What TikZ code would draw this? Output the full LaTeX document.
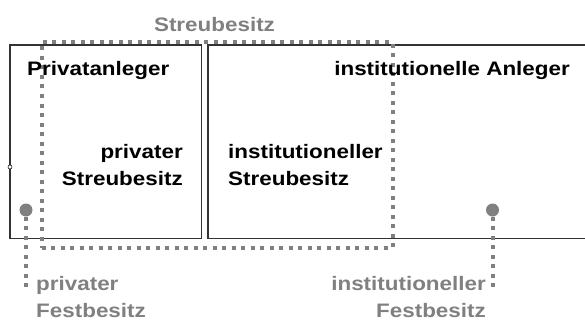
\documentclass[tikz,border=0pt]{standalone}
\usepackage{fontspec}
\setmainfont{Liberation Sans}[FakeStretch=1.15]
\usetikzlibrary{positioning}
\definecolor{boxline}{RGB}{51,51,51}
\definecolor{dotgray}{RGB}{128,128,128}

\begin{document}
\begin{tikzpicture}[x=1pt,y=-1pt,
    every node/.style={font=\fontsize{19.5}{27}\selectfont\bfseries,inner sep=0pt},
    anleger/.style={draw=boxline,line width=1.5pt},
    streu/.style={draw=dotgray,line width=4pt,dash pattern=on 4pt off 5.5pt},
    grau/.style={text=dotgray},
    punkt/.style={circle,fill=dotgray,minimum size=13pt}]

    % fix the page size
    \useasboundingbox (0,0) rectangle (585,321);

    % boxes of the two investor groups
    \node[anleger,minimum width=191.5pt,minimum height=193.5pt] (privat) at (105.75,141.75) {};
    \draw[anleger] (585,45) -- (208,45) -- (208,238.5) -- (585,238.5);
    \node[draw=black,fill=white,circle,minimum size=4pt,line width=0.5pt] (marke) at (10,167) {};

    % free float
    \node[streu,minimum width=351pt,minimum height=205.5pt] (streu) at (217,144.75) {};
    \node[grau,anchor=base] (streulabel) at (214.5,31.7) {Streubesitz};

    % labels
    \node[anchor=base west] (privlabel) at (27,75.7) {Privatanleger};
    \node[anchor=base east] (instlabel) at (570,75.7) {institutionelle Anleger};
    \node[anchor=base east,align=right] (privstreu) at (183,185) {privater\\Streubesitz};
    \node[anchor=base west,align=left] (inststreu) at (228,185) {institutioneller\\Streubesitz};

    % fixed holdings
    \coordinate (pfende) at (26,289);
    \coordinate (ifende) at (492.5,290);
    \node[punkt] (pf) at (26,210) {};
    \node[punkt] (if) at (492.5,210) {};
    \draw[streu] (pf.south) -- (pfende);
    \draw[streu] (if.south) -- (ifende);
    \node[grau,anchor=base west,align=left] (pflabel) at (36,317) {privater\\Festbesitz};
    \node[grau,anchor=base east,align=right] (iflabel) at (486,317) {institutioneller\\Festbesitz};

\end{tikzpicture}
\end{document}
